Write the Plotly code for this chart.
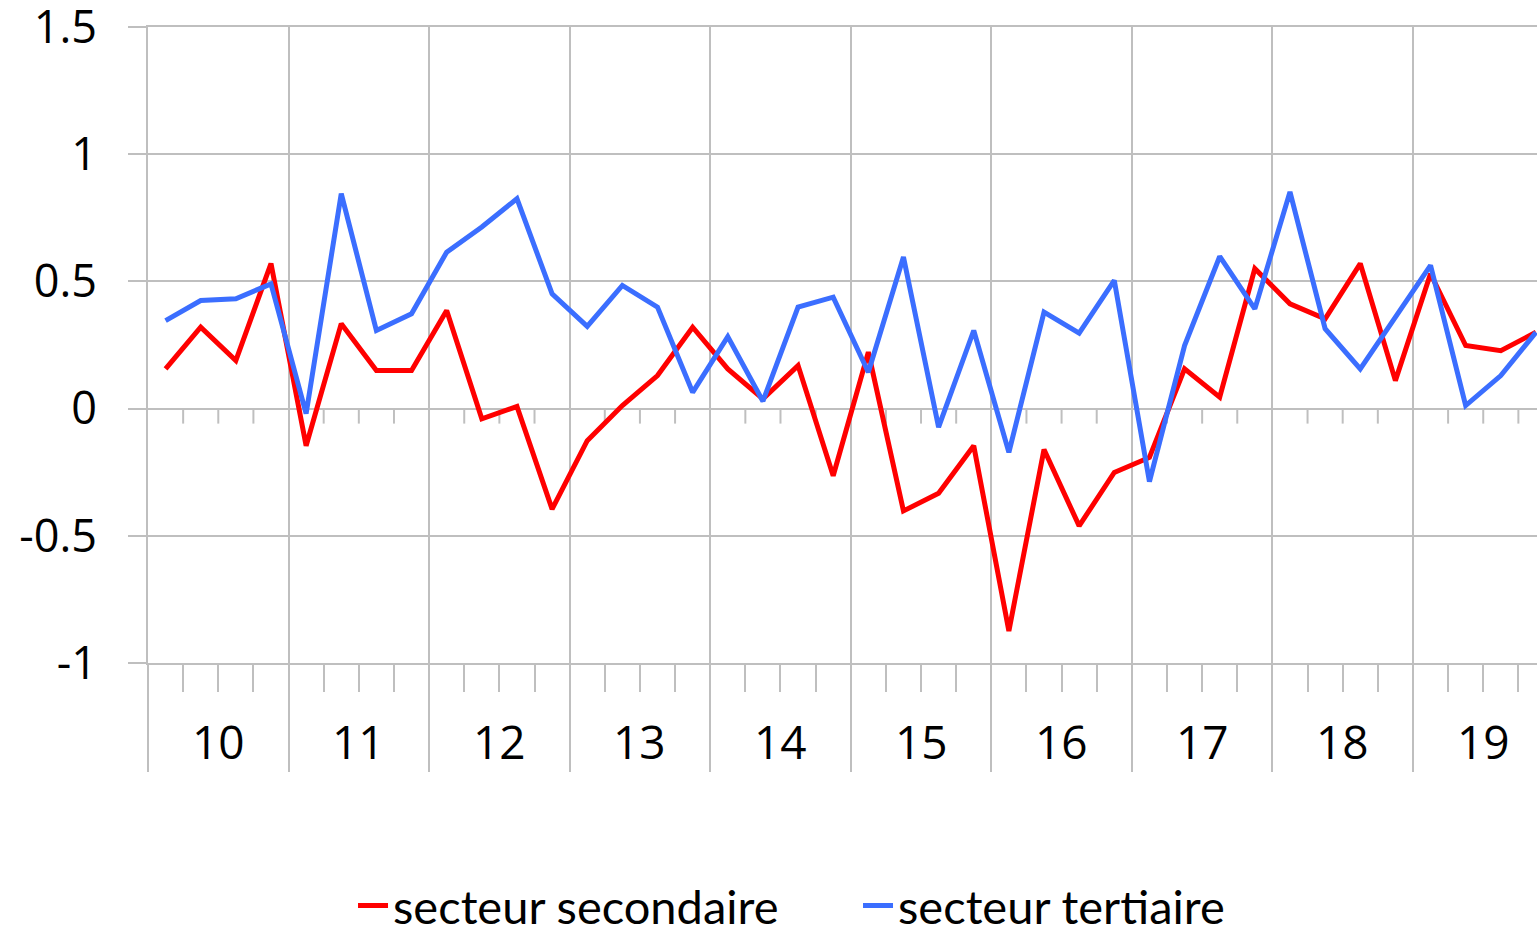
import plotly.graph_objects as go

years = ["10", "11", "12", "13", "14", "15", "16", "17", "18", "19"]
quarters_per_year = 4

secondaire = [0.156, 0.32, 0.189, 0.57, -0.146, 0.334, 0.15, 0.15, 0.386, -0.04,
              0.008, -0.395, -0.126, 0.012, 0.13, 0.32, 0.156, 0.038, 0.169, -0.264,
              0.222, -0.402, -0.333, -0.146, -0.874, -0.161, -0.461, -0.251, -0.192, 0.156,
              0.045, 0.55, 0.412, 0.353, 0.57, 0.11, 0.53, 0.248, 0.228, 0.30]
tertiaire = [0.346, 0.425, 0.432, 0.49, -0.02, 0.845, 0.307, 0.373, 0.615, 0.714,
             0.825, 0.451, 0.323, 0.484, 0.399, 0.064, 0.283, 0.029, 0.399, 0.438,
             0.143, 0.596, -0.073, 0.307, -0.172, 0.379, 0.297, 0.504, -0.287, 0.248,
             0.598, 0.392, 0.852, 0.314, 0.156, 0.36, 0.563, 0.012, 0.13, 0.30]

y_ticks = [-1, -0.5, 0, 0.5, 1, 1.5]
y_ticktext = ["-1", "-0.5", "0", "0.5", "1", "1.5"]

n = len(secondaire)
x = list(range(n))
GRID = "#BFBFBF"

fig = go.Figure()
fig.add_trace(go.Scatter(x=x, y=secondaire, mode="lines", name="secteur secondaire",
                         line=dict(color="#FF0000", width=5)))
fig.add_trace(go.Scatter(x=x, y=tertiaire, mode="lines", name="secteur tertiaire",
                         line=dict(color="#3B6EFF", width=5)))

year_bounds = [i * quarters_per_year - 0.5 for i in range(len(years))]
quarter_bounds = [q - 0.5 for q in range(1, n) if q % quarters_per_year != 0]

# small ticks on the zero line between quarters
for qb in quarter_bounds:
    fig.add_shape(type="line", xref="x", yref="y", x0=qb, x1=qb,
                  ysizemode="pixel", yanchor=0, y0=0, y1=-15,
                  line=dict(color=GRID, width=2), layer="below")

# year labels
for i, yr in enumerate(years):
    fig.add_annotation(x=i * quarters_per_year + (quarters_per_year - 1) / 2, y=0,
                       xref="x", yref="paper", yanchor="middle", yshift=-78,
                       text=yr, showarrow=False,
                       font=dict(family="Open Sans", size=46, color="#000000"))

fig.update_layout(
    width=1537, height=926,
    margin=dict(l=148, r=0, t=27, b=263, autoexpand=False),
    paper_bgcolor="white", plot_bgcolor="white",
    showlegend=True,
    legend=dict(orientation="h", x=0.1476, xanchor="left", y=-0.382, yanchor="middle",
                font=dict(family="Lato", size=47, color="#000000"),
                itemwidth=30, entrywidth=460, entrywidthmode="pixels",
                tracegroupgap=0, bgcolor="rgba(0,0,0,0)"),
    xaxis=dict(range=[-0.5, 39.03], tickmode="array", tickvals=year_bounds,
               showticklabels=False, ticks="outside", ticklen=107, tickwidth=2,
               tickcolor=GRID, showgrid=True, gridcolor=GRID, gridwidth=2,
               showline=True, linecolor=GRID, linewidth=2, mirror=True,
               zeroline=False, automargin=False,
               minor=dict(tickmode="array", tickvals=quarter_bounds, ticks="outside",
                          ticklen=27, tickwidth=2, tickcolor=GRID, showgrid=False)),
    yaxis=dict(range=[-1, 1.5], tickmode="array", tickvals=y_ticks, ticktext=y_ticktext,
               ticks="outside", ticklen=18, tickwidth=2, tickcolor=GRID,
               showgrid=True, gridcolor=GRID, gridwidth=2,
               showline=True, linecolor=GRID, linewidth=2,
               zeroline=False, ticklabelstandoff=22, automargin=False,
               ticklabeloverflow="allow",
               tickfont=dict(family="Open Sans", size=45, color="#000000")),
)

fig.write_html("out.html", config={"displayModeBar": False},
               post_script="document.body.style.margin='0px';document.body.style.overflow='hidden';")
